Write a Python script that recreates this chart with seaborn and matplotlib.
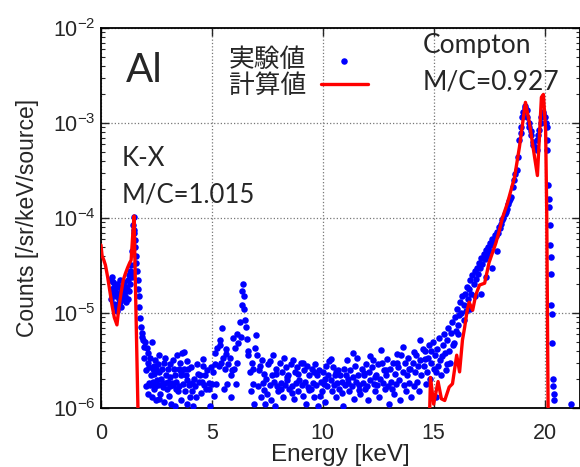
import matplotlib
matplotlib.use("Agg")
import matplotlib.pyplot as plt
import seaborn as sns
import numpy as np
import pandas as pd

# measured spectrum (energy in keV, counts in units of 1e-6 /sr/keV/source)
exp_energy = [
    # low-energy K-X region
    0.42, 0.45, 0.48, 0.50, 0.53, 0.55, 0.58, 0.60, 0.63, 0.65, 0.68, 0.70, 0.72, 0.75, 0.77,
    0.80, 0.82, 0.85, 0.87, 0.90, 0.92, 0.95, 0.97, 1.00, 1.02, 1.05, 1.08, 1.10, 1.12, 1.15,
    1.17, 1.20, 1.22, 1.25, 1.28, 1.30, 1.33, 1.35, 1.38, 1.40, 1.42, 1.44, 1.47, 1.49, 1.51,
    1.53, 1.55, 1.57, 1.60, 1.62, 1.65, 1.67, 1.70, 1.73, 1.76, 1.80, 1.83, 1.86, 1.89, 1.92,
    1.95, 1.98,
    # background 2-5 keV
    2.02, 2.05, 2.08, 2.10, 2.13, 2.15, 2.18, 2.20, 2.23, 2.25, 2.28, 2.30, 2.33, 2.35, 2.38,
    2.40, 2.43, 2.45, 2.48, 2.50, 2.53, 2.55, 2.58, 2.60, 2.63, 2.66, 2.70, 2.73, 2.76, 2.80,
    2.83, 2.86, 2.90, 2.93, 2.96, 3.00, 3.03, 3.06, 3.10, 3.13, 3.16, 3.20, 3.23, 3.26, 3.30,
    3.33, 3.36, 3.40, 3.43, 3.46, 3.50, 3.53, 3.56, 3.60, 3.63, 3.66, 3.70, 3.73, 3.76, 3.80,
    3.83, 3.86, 3.90, 3.93, 3.96, 4.00, 4.05, 4.10, 4.15, 4.20, 4.25, 4.30, 4.35, 4.40, 4.45,
    4.50, 4.55, 4.60, 4.65, 4.70, 4.75, 4.80, 4.85, 4.90, 4.95,
    # bump around 6.4 keV
    5.00, 5.05, 5.10, 5.15, 5.20, 5.25, 5.30, 5.35, 5.40, 5.45, 5.50, 5.55, 5.60, 5.65, 5.70,
    5.75, 5.80, 5.85, 5.90, 5.95, 6.00, 6.05, 6.10, 6.15, 6.20, 6.25, 6.30, 6.35, 6.38, 6.40,
    6.43, 6.46, 6.50, 6.55, 6.60, 6.65, 6.70, 6.75, 6.80, 6.85, 6.90, 6.95, 7.00,
    # background 7-14.5 keV
    7.05, 7.10, 7.15, 7.20, 7.25, 7.30, 7.35, 7.40, 7.45, 7.50, 7.55, 7.60, 7.65, 7.70, 7.75,
    7.80, 7.85, 7.90, 7.95, 8.00, 8.05, 8.10, 8.15, 8.20, 8.25, 8.30, 8.35, 8.40, 8.45, 8.50,
    8.55, 8.60, 8.65, 8.70, 8.75, 8.80, 8.85, 8.90, 8.95, 9.00, 9.05, 9.10, 9.15, 9.20, 9.25,
    9.30, 9.35, 9.40, 9.45, 9.50, 9.55, 9.60, 9.65, 9.70, 9.75, 9.80, 9.85, 9.90, 9.95, 10.00,
    10.05, 10.10, 10.15, 10.20, 10.25, 10.30, 10.35, 10.40, 10.45, 10.50, 10.55, 10.60, 10.65,
    10.70, 10.75, 10.80, 10.85, 10.90, 10.95, 11.00, 11.05, 11.10, 11.15, 11.20, 11.25, 11.30,
    11.35, 11.40, 11.45, 11.50, 11.55, 11.60, 11.65, 11.70, 11.75, 11.80, 11.85, 11.90, 11.95,
    12.00, 12.05, 12.10, 12.15, 12.20, 12.25, 12.30, 12.35, 12.40, 12.45, 12.50, 12.55, 12.60,
    12.65, 12.70, 12.75, 12.80, 12.85, 12.90, 12.95, 13.00, 13.05, 13.10, 13.15, 13.20, 13.25,
    13.30, 13.35, 13.40, 13.45, 13.50, 13.55, 13.60, 13.65, 13.70, 13.75, 13.80, 13.85, 13.90,
    13.95, 14.00, 14.05, 14.10, 14.15, 14.20, 14.25, 14.30, 14.35, 14.40, 14.45, 14.50,
    # Compton rising edge
    14.55, 14.60, 14.65, 14.70, 14.75, 14.80, 14.85, 14.90, 14.95, 15.00, 15.05, 15.10, 15.15,
    15.20, 15.25, 15.30, 15.35, 15.40, 15.45, 15.50, 15.55, 15.60, 15.65, 15.70, 15.75, 15.80,
    15.85, 15.90, 15.95, 16.00, 16.05, 16.10, 16.15, 16.20, 16.25, 16.30, 16.35, 16.40, 16.45,
    16.50, 16.55, 16.60, 16.65, 16.70, 16.75, 16.80, 16.85, 16.90, 16.95, 17.00, 17.05, 17.10,
    17.15, 17.20, 17.25, 17.30, 17.35, 17.40, 17.45, 17.50, 17.55, 17.60, 17.65, 17.70, 17.75,
    17.80, 17.85, 17.90, 17.95, 18.00,
    # Compton peak
    18.05, 18.10, 18.15, 18.20, 18.25, 18.30, 18.35, 18.40, 18.45, 18.50, 18.56, 18.62, 18.68,
    18.74, 18.80, 18.87, 18.92, 18.96, 19.00, 19.05, 19.10, 19.14, 19.19, 19.23, 19.28, 19.32,
    19.37, 19.41, 19.46, 19.50, 19.55, 19.60, 19.64, 19.68, 19.72, 19.77, 19.82, 19.86, 19.91,
    19.95, 20.00, 20.05, 20.09, 20.11, 20.13, 20.15, 20.18, 20.21, 20.23, 20.25, 20.27, 20.29,
    20.31, 20.33, 20.35, 20.37, 20.39, 20.41, 20.43, 21.20,
    # second set of channels, 2-18 keV
    2.12, 2.37, 2.62, 2.87, 3.12, 3.37, 3.62, 3.87, 4.12, 4.37, 4.62, 4.87, 5.12, 5.37, 5.62,
    5.87, 6.12, 6.62, 6.87, 7.12, 7.37, 7.62, 7.87, 8.12, 8.37, 8.62, 8.87, 9.12, 9.37, 9.62,
    9.87, 10.12, 10.37, 10.62, 10.87, 11.12, 11.37, 11.62, 11.87, 12.12, 12.37, 12.62, 12.87,
    13.12, 13.37, 13.62, 13.87, 14.12, 14.37, 14.62, 14.87, 15.12, 15.37, 15.62, 15.87, 16.12,
    16.37, 16.62, 16.87, 17.12, 17.37, 17.62, 17.87,
]
exp_counts = [
    22, 14, 18, 24, 16, 21, 12.5, 19, 11.5, 17, 15, 20, 10.5, 16, 12.5,
    19, 14, 22, 13, 17, 11.5, 15, 19, 18, 14, 21, 15, 17, 13, 19,
    18, 22, 14, 25, 17, 20, 28, 32, 24, 27, 45, 84, 102, 75, 69,
    58, 49, 40, 34, 28, 22, 18, 15, 11.5, 8.9, 7.1, 5.6, 6.2, 5.2, 4.4,
    3.4, 4.9,
    2.5, 1.7, 4.3, 1.4, 3.0, 1.85, 2.7, 3.4, 1.75, 2.2, 1.3, 5.0, 1.9, 2.6, 1.6,
    2.8, 1.7, 3.2, 1.2, 2.6, 1.95, 2.9, 1.75, 3.6, 2.4, 1.4, 2.0, 1.8, 2.6, 1.65,
    1.15, 3.0, 1.85, 2.2, 1.6, 1.9, 2.6, 1.35, 1.7, 2.9, 1.1, 1.85, 3.2, 1.75, 2.6,
    1.05, 2.2, 1.9, 3.6, 1.5, 2.6, 1.7, 3.0, 1.2, 2.2, 3.8, 1.8, 2.6, 3.9, 1.5,
    2.2, 1.95, 1.1, 2.6, 1.75, 1.3, 2.7, 1.85, 1.05, 2.0, 1.7, 1.3, 2.9, 1.9, 2.2,
    1.45, 1.9, 2.8, 1.75, 2.2, 1.6, 2.5, 1.85, 1.05, 2.7,
    1.8, 2.4, 1.35, 3.8, 1.8, 4.3, 2.8, 5.2, 3.0, 7.0, 3.4, 1.6, 2.6, 4.2, 1.8,
    2.9, 3.4, 1.3, 2.5, 5.5, 2.6, 4.3, 1.8, 3.0, 4.8, 8.0, 5.6, 12, 17, 20,
    15, 11, 8.4, 7.1, 5.3, 3.6, 2.4, 1.5, 3.0, 1.8, 1.1, 4.3, 5.9,
    3.6, 1.7, 2.8, 1.3, 3.2, 1.85, 2.3, 1.1, 2.0, 1.4, 2.9, 1.75, 1.2, 2.2, 3.6,
    1.9, 1.05, 2.6, 1.7, 1.5, 3.0, 1.85, 2.4, 1.3, 3.4, 1.75, 2.7, 1.95, 2.2, 1.6,
    2.9, 1.7, 3.2, 1.25, 2.4, 1.85, 2.7, 1.5, 1.95, 3.0, 1.75, 1.35, 2.5, 1.9, 1.1,
    2.8, 1.65, 2.2, 1.6, 2.6, 1.85, 1.3, 2.9, 1.75, 2.2, 1.05, 2.5, 1.9, 1.5, 2.4,
    1.8, 1.15, 2.8, 1.7, 2.2, 3.1, 1.95, 1.5, 2.7, 1.75, 2.2, 1.3, 1.85,
    2.5, 1.6, 2.2, 1.9, 1.05, 2.6, 1.75, 2.2, 3.2, 1.85, 1.5, 2.5, 1.7,
    2.1, 1.25, 2.8, 1.9, 3.4, 2.2, 1.75, 1.4, 2.6, 1.85, 2.2, 1.6, 2.9,
    1.7, 1.2, 2.4, 1.95, 2.7, 3.2, 1.8, 1.5, 2.2, 1.75, 2.9, 1.3, 2.0,
    3.0, 1.85, 2.5, 1.6, 2.2, 3.3, 1.7, 1.1, 2.6, 1.9, 3.0, 1.4, 2.3,
    1.8, 3.7, 2.7, 1.95, 1.2, 3.6, 2.4, 1.75, 3.0, 1.5, 2.2, 3.4, 1.85,
    2.6, 1.3, 3.0, 1.7, 2.4, 3.6, 1.9, 2.8, 1.5, 3.2, 2.2, 4.2,
    2.8, 4.0, 1.8, 2.4, 3.4, 4.6, 2.0, 3.0, 5.0, 2.6, 3.6, 1.3, 4.2,
    2.8, 5.4, 3.2, 2.2, 4.6, 6.0, 3.8, 2.5, 5.2, 7.0, 4.0, 3.0, 6.2,
    8.0, 4.8, 9.0, 6.5, 11, 7.5, 9.5, 13, 10, 15, 12, 16, 10.5,
    19, 14, 18, 22, 16, 25, 20, 28, 23, 30, 26, 34, 30,
    38, 33, 42, 37, 46, 40, 50, 45, 55, 52, 60, 58, 66,
    64, 72, 70, 80, 78,
    86, 95, 100, 110, 116, 125, 140, 150, 160, 167, 210, 250, 290,
    320, 440, 660, 780, 900, 1160, 1300, 1430, 1500, 1370, 1160, 1000, 900,
    820, 750, 630, 590, 560, 540, 520, 660, 740, 840, 1000, 1160, 1300,
    1250, 1160, 1000, 900, 660, 520, 220, 160, 130, 84, 52, 39, 26,
    12, 9.8, 4.8, 2.0, 1.7, 1.4, 1.2, 1.1,
    3.8, 2.3, 1.25, 3.4, 2.1, 1.6, 2.4, 3.1, 1.5, 2.3, 3.3, 1.6, 2.9, 4.6, 3.7,
    2.2, 6.0, 4.0, 2.6, 2.5, 1.55, 3.1, 2.3, 1.6, 2.1, 1.45, 2.3, 3.0, 1.55, 2.4,
    1.35, 2.0, 3.3, 2.4, 1.45, 2.0, 3.8, 1.55, 2.35, 3.5, 2.1, 4.1, 2.5,
    1.6, 3.0, 4.4, 2.6, 3.9, 5.2, 3.3, 4.0, 2.4, 3.5, 2.9, 4.6, 6.0,
    8.5, 11, 15, 16, 24, 30, 45,
]

# calculated spectrum (same units); 0.05 means below the plotted range
calc_energy = [
    0.00, 0.05, 0.13, 0.20, 0.30, 0.40, 0.50, 0.60, 0.72, 0.80, 0.90, 1.00, 1.10, 1.20, 1.30,
    1.36, 1.42, 1.49, 1.78,
    14.68, 14.86, 15.00, 15.20, 15.35, 15.50, 15.70, 15.85, 15.95, 16.04, 16.17, 16.30, 16.40,
    16.50, 16.60, 16.76, 16.90, 17.07, 17.30, 17.50, 17.80, 17.97, 18.10, 18.33, 18.65, 18.87,
    19.14, 19.32, 19.55, 19.68, 19.86, 19.95, 20.05, 20.10, 20.20,
]
calc_counts = [
    52, 40, 36, 32, 24, 17, 12, 9.0, 7.5, 11, 16, 22, 26, 30, 34,
    36, 60, 105, 0.05,
    0.05, 2.1, 1.1, 1.9, 1.25, 1.2, 1.66, 1.8, 2.6, 3.6, 2.4, 5.2, 7.1,
    10.2, 13, 10.7, 15.5, 19.7, 20.6, 34, 54, 75, 100, 144, 270, 560,
    1650, 1000, 440, 280, 1870, 2000, 840, 113, 0.05,
]

sns.set_theme(style="ticks")
plt.rcParams["font.family"] = ["Liberation Sans", "DejaVu Sans"]
plt.rcParams["mathtext.fontset"] = "custom"
plt.rcParams["mathtext.rm"] = "Liberation Sans"

exp_df = pd.DataFrame({"energy": exp_energy, "counts": np.array(exp_counts) * 1e-6})
calc_df = pd.DataFrame({"energy": calc_energy, "counts": np.array(calc_counts) * 1e-6})

fig = plt.figure(figsize=(5.8, 4.67), dpi=100)
ax = fig.add_axes([0.1741, 0.1263, 0.8259, 0.8137])

sns.scatterplot(data=exp_df, x="energy", y="counts", ax=ax, color="#0000ff", s=22,
                linewidth=0, label="実験値", zorder=3)
sns.lineplot(data=calc_df, x="energy", y="counts", ax=ax, color="#ff0000", lw=2.4,
             sort=False, estimator=None, label="計算値", zorder=4)

ax.set_yscale("log")
ax.set_xlim(0, 21.6)
ax.set_ylim(1e-6, 1e-2)
ax.set_xticks([0, 5, 10, 15, 20])
ax.grid(True, which="major", linestyle=":", color="#777777", linewidth=0.9)
ax.set_axisbelow(True)
ax.tick_params(which="both", direction="in", top=True, right=True, labelsize=15.5)
ax.tick_params(axis="x", pad=11)
ax.tick_params(axis="y", pad=4)
ax.tick_params(which="major", length=6, width=1)
ax.tick_params(which="minor", length=3, width=0.8)
for sp in ax.spines.values():
    sp.set_linewidth(1.3)
    sp.set_color("black")

ax.set_xlabel("Energy [keV]", fontsize=17.5, labelpad=0)
ax.set_ylabel("Counts [/sr/keV/source]", fontsize=16.5, labelpad=10)

leg = ax.legend(loc="upper left", bbox_to_anchor=(0.245, 0.976), frameon=False,
                markerfirst=False, handlelength=1.8, handletextpad=0.6, labelspacing=0.0,
                borderaxespad=0, prop={"family": ["Noto Sans CJK JP"], "size": 18.5})

ann = ["Lato", "DejaVu Sans"]
ax.text(0.052, 0.858, "Al", transform=ax.transAxes, fontsize=29, family=ann, va="baseline")
ax.text(0.044, 0.637, "K-X", transform=ax.transAxes, fontsize=18.5, family=ann, va="baseline")
ax.text(0.044, 0.542, "M/C=1.015", transform=ax.transAxes, fontsize=18.5, family=ann, va="baseline")
ax.text(0.672, 0.934, "Compton", transform=ax.transAxes, fontsize=19, family=ann, va="baseline")
ax.text(0.672, 0.837, "M/C=0.927", transform=ax.transAxes, fontsize=19, family=ann, va="baseline")

fig.savefig("out.png", dpi=100)
